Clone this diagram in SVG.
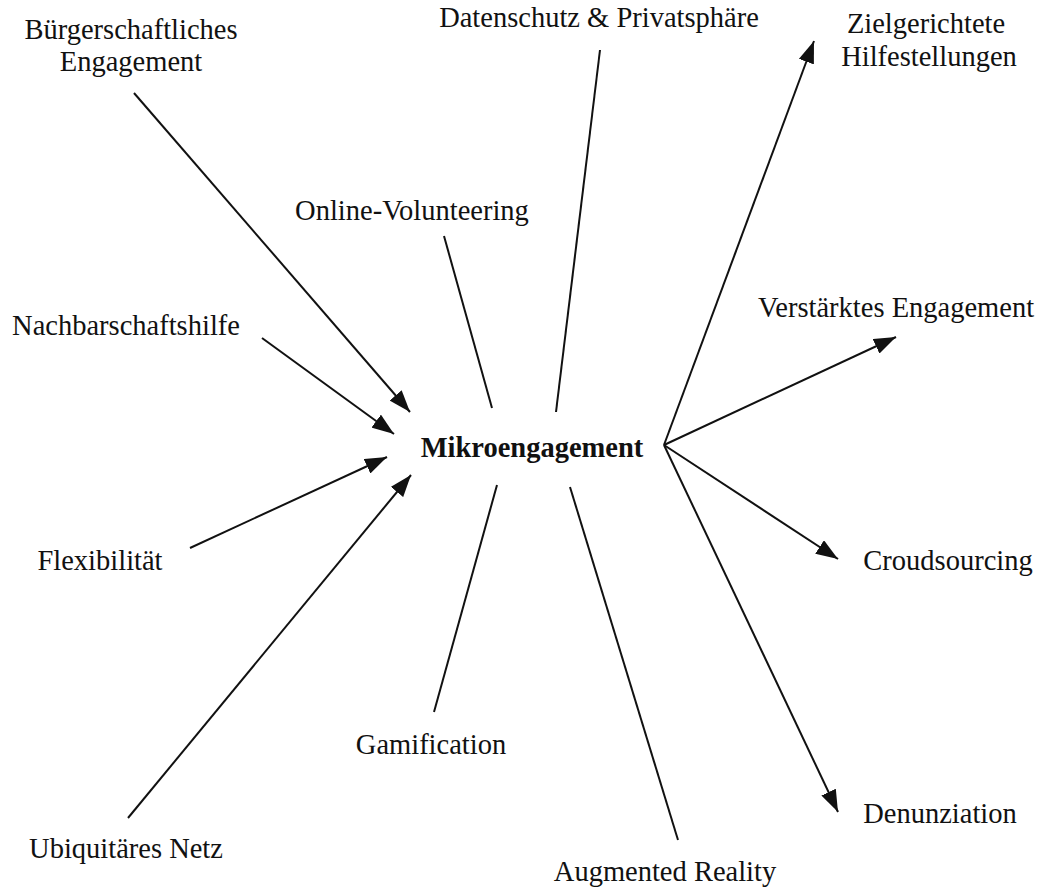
<svg xmlns="http://www.w3.org/2000/svg" width="1044" height="891" viewBox="0 0 1044 891">
<style>
text{font-family:"Liberation Serif","Times New Roman",serif;font-size:28.5px;fill:#111;text-anchor:middle}
.b{font-weight:bold}
.c line{stroke:#111;stroke-width:2}
</style>
<defs>
<marker id="ah" viewBox="0 0 22 16" refX="22" refY="8" markerWidth="22" markerHeight="16" markerUnits="userSpaceOnUse" orient="auto">
<path d="M0,0 L22,8 L0,16 Z" fill="#111"/>
</marker>
</defs>
<rect width="1044" height="891" fill="#fff"/>
<g id="connectors" class="c">
<line x1="134" y1="93" x2="410" y2="412" marker-end="url(#ah)"/>
<line x1="262" y1="338" x2="394" y2="434" marker-end="url(#ah)"/>
<line x1="190" y1="548" x2="387" y2="457" marker-end="url(#ah)"/>
<line x1="128" y1="818" x2="411" y2="475" marker-end="url(#ah)"/>
<line x1="444" y1="236" x2="492" y2="408"/>
<line x1="600" y1="50" x2="556" y2="412"/>
<line x1="497" y1="485" x2="434" y2="712"/>
<line x1="570" y1="487" x2="678" y2="840"/>
<line x1="664" y1="445" x2="814" y2="41" marker-end="url(#ah)"/>
<line x1="664" y1="445" x2="896" y2="337" marker-end="url(#ah)"/>
<line x1="664" y1="445" x2="838" y2="559" marker-end="url(#ah)"/>
<line x1="664" y1="445" x2="838" y2="812" marker-end="url(#ah)"/>
</g>
<g id="center"><text class="b" x="532" y="457">Mikroengagement</text></g>
<g id="buergerschaftliches"><text x="131" y="39">Bürgerschaftliches</text><text x="131" y="71">Engagement</text></g>
<g id="datenschutz"><text x="599" y="27">Datenschutz &amp; Privatsphäre</text></g>
<g id="zielgerichtete"><text x="926" y="33">Zielgerichtete</text><text x="929" y="66">Hilfestellungen</text></g>
<g id="online"><text x="412" y="220">Online-Volunteering</text></g>
<g id="nachbarschaft"><text x="126" y="335">Nachbarschaftshilfe</text></g>
<g id="verstaerktes"><text x="896" y="317">Verstärktes Engagement</text></g>
<g id="flexibilitaet"><text x="100" y="570">Flexibilität</text></g>
<g id="croudsourcing"><text x="948" y="570">Croudsourcing</text></g>
<g id="gamification"><text x="431" y="754">Gamification</text></g>
<g id="denunziation"><text x="940" y="823">Denunziation</text></g>
<g id="ubiquitaer"><text x="126" y="858">Ubiquitäres Netz</text></g>
<g id="augmented"><text x="665" y="881">Augmented Reality</text></g>
</svg>
